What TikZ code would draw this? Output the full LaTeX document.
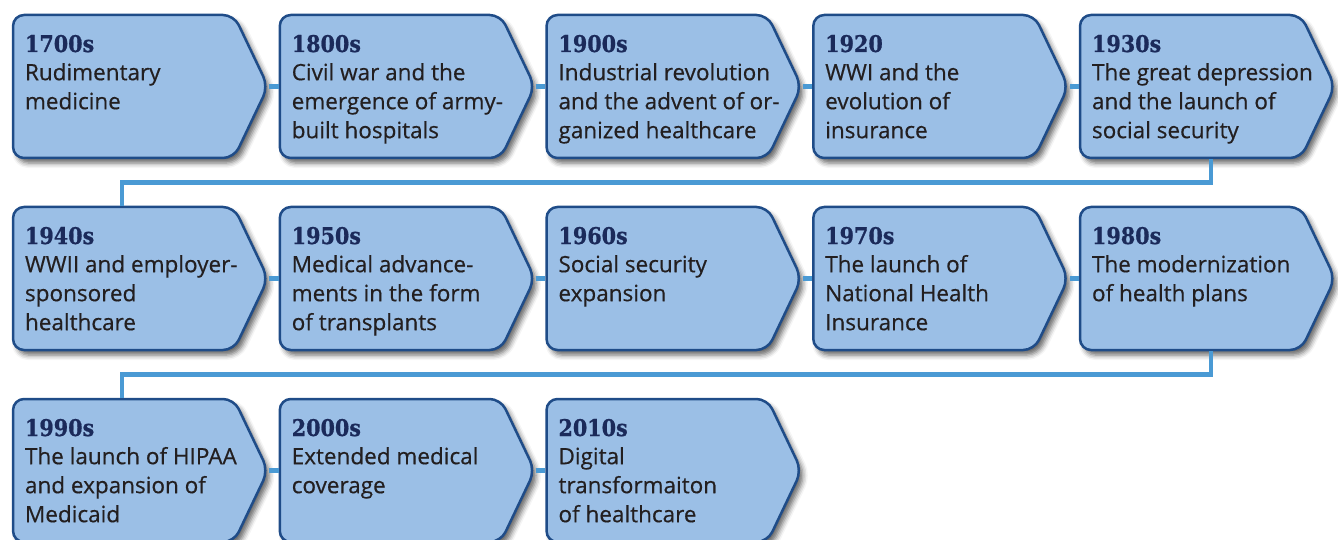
\documentclass[tikz,border=0pt]{standalone}
\usepackage{fontspec}
\usepackage{tikz}
\usetikzlibrary{shapes.symbols,shadows.blur,calc}

\newfontfamily\descfont{Open Sans}[UprightFeatures={FakeBold=0.5}]
\newfontfamily\yearfont{DejaVu Serif Condensed}[BoldFeatures={FakeBold=0.8}]

\definecolor{boxfill}{RGB}{155,191,230}
\definecolor{boxline}{RGB}{31,76,136}
\definecolor{yearcol}{RGB}{27,42,90}
\definecolor{textcol}{RGB}{35,31,32}
\definecolor{linkcol}{RGB}{74,154,212}

\tikzset{
  box/.style={shape=signal, signal to=east, signal pointer angle=129,
    minimum width=255, minimum height=143, inner sep=0pt,
    draw=boxline, line width=2.5pt, fill=boxfill, rounded corners=11pt,
    blur shadow={shadow xshift=4pt, shadow yshift=-5pt, shadow blur radius=5pt, shadow opacity=60}},
  year/.style={font=\yearfont\bfseries\fontsize{23}{27}\selectfont, text=yearcol, inner sep=0pt},
  desc/.style={font=\descfont\fontsize{22.5}{29}\selectfont, text=textcol, inner sep=0pt, align=left},
  link/.style={draw=linkcol, line width=4.5pt}
}

\begin{document}
\begin{tikzpicture}[x=1pt,y=1pt]
\useasboundingbox (0,0) rectangle (1338,-540);

\foreach \i/\yr/\txt in {
  1/1700s/Rudimentary\\medicine,
  2/1800s/Civil war and the\\emergence of army-\\built hospitals,
  3/1900s/Industrial revolution\\and the advent of or-\\ganized healthcare,
  4/1920/WWI and the\\evolution of\\insurance,
  5/1930s/The great depression\\and the launch of\\social security,
  6/1940s/WWII and employer-\\sponsored\\healthcare,
  7/1950s/Medical advance-\\ments in the form\\of transplants,
  8/1960s/Social security\\expansion,
  9/1970s/The launch of\\National Health\\Insurance,
  10/1980s/The modernization\\of health plans,
  11/1990s/The launch of HIPAA\\and expansion of\\Medicaid,
  12/2000s/Extended medical\\coverage,
  13/2010s/Digital\\transformaiton\\of healthcare} {
	\pgfmathtruncatemacro{\row}{(\i-1)/5}
	\pgfmathtruncatemacro{\col}{\i-1-5*\row}
	\node[box] (b\i) at ({123.5+\col*266.75}, {-86.5-\row*192}) {};
	\node[year, anchor=base west] (y\i) at ([shift={(13,34.5)}]b\i.west) {\yr};
	\node[desc, anchor=north west] (d\i) at ([shift={(13,26.8)}]b\i.west) {\strut\txt};
}

% links inside a row
\foreach \i in {1,2,3,4,6,7,8,9,11,12} {
	\pgfmathtruncatemacro{\j}{\i+1}
	\draw[link] (b\i.east) -- (b\j.west);
}

% links between rows
\draw[link] ([xshift=20.5]b5.south) |- ($(b5.south)!0.5!(b6.north)$) -| ([xshift=-1.5]b6.north);
\draw[link] ([xshift=20.5]b10.south) |- ($(b10.south)!0.5!(b11.north)$) -| ([xshift=-1.5]b11.north);
\end{tikzpicture}
\end{document}
